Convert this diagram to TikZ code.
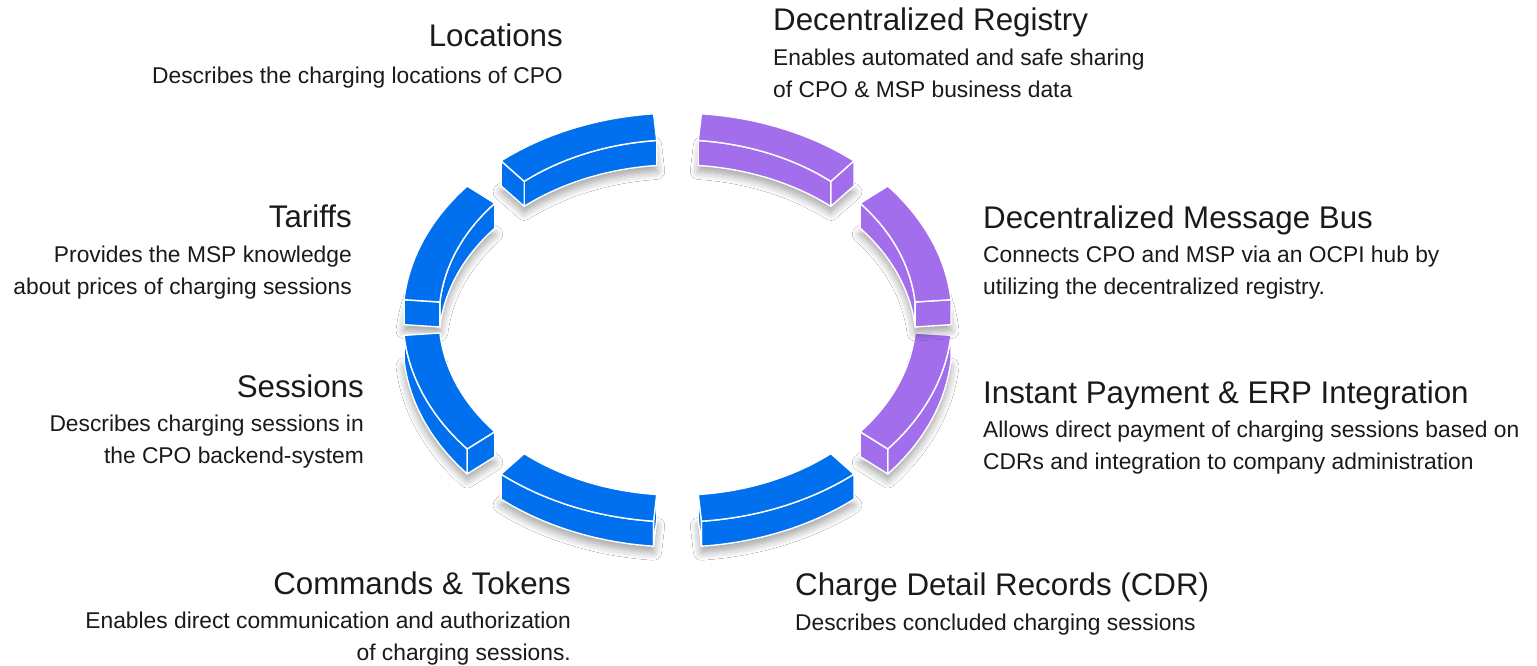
\documentclass[tikz,border=0pt]{standalone}
\usepackage{fontspec}
\setmainfont{Liberation Sans}
\usetikzlibrary{shadows.blur}
\definecolor{segblue}{HTML}{0070EE}
\definecolor{segpurple}{HTML}{A36EEC}
\definecolor{txtdark}{HTML}{1A1A1A}
\def\cx{677.5}\def\cy{317.5}
\def\Ro{274.5}\def\Ryo{204.5}
\def\Ri{238.5}\def\Ryi{177.7}
\def\hh{25}
\tikzset{
  segedge/.style={draw=white, line width=1.4pt, line join=round},
  segshadow/.style={blur shadow={shadow xshift=0pt, shadow yshift=-6pt, shadow blur radius=8pt, shadow blur steps=10, shadow opacity=38}},
  ttl/.style={inner sep=0pt, text=txtdark, font=\fontsize{31.3}{36}\selectfont},
  dsc/.style={inner sep=0pt, text=txtdark, font=\fontsize{22.8}{30}\selectfont}
}
% top face
\newcommand\segtop[3]{\filldraw[fill=#3,segedge]
  plot[domain=#1:#2,samples=40] ({\cx+\Ro*cos(\x)},{\cy-\Ryo*sin(\x)}) --
  plot[domain=#2:#1,samples=40] ({\cx+\Ri*cos(\x)},{\cy-\Ryi*sin(\x)}) -- cycle;}
% inner wall
\newcommand\seginner[3]{\filldraw[fill=#3,segedge]
  plot[domain=#1:#2,samples=40] ({\cx+\Ri*cos(\x)},{\cy-\Ryi*sin(\x)}) --
  plot[domain=#2:#1,samples=40] ({\cx+\Ri*cos(\x)},{\cy+\hh-\Ryi*sin(\x)}) -- cycle;}
% outer wall
\newcommand\segouter[3]{\filldraw[fill=#3,segedge]
  plot[domain=#1:#2,samples=40] ({\cx+\Ro*cos(\x)},{\cy-\Ryo*sin(\x)}) --
  plot[domain=#2:#1,samples=40] ({\cx+\Ro*cos(\x)},{\cy+\hh-\Ryo*sin(\x)}) -- cycle;}
% end cap
\newcommand\segcap[2]{\filldraw[fill=#2,segedge]
  ({\cx+\Ro*cos(#1)},{\cy-\Ryo*sin(#1)}) --
  ({\cx+\Ri*cos(#1)},{\cy-\Ryi*sin(#1)}) --
  ({\cx+\Ri*cos(#1)},{\cy+\hh-\Ryi*sin(#1)}) --
  ({\cx+\Ro*cos(#1)},{\cy+\hh-\Ryo*sin(#1)}) -- cycle;}
% shadow (bottom face)
\newcommand\segshade[3]{\fill[fill=#3,segshadow]
  plot[domain=#1:#2,samples=40] ({\cx+\Ro*cos(\x)},{\cy+\hh-\Ryo*sin(\x)}) --
  plot[domain=#2:#1,samples=40] ({\cx+\Ri*cos(\x)},{\cy+\hh-\Ryi*sin(\x)}) -- cycle;}
\begin{document}
\begin{tikzpicture}[x=1pt,y=-1pt]
\useasboundingbox[fill=white] (0,0) rectangle (1537,666);
% Locations
\segshade{95}{130}{segblue}\seginner{95}{130}{segblue}\segcap{130}{segblue}\segtop{95}{130}{segblue}
% Decentralized Registry
\segshade{50}{85}{segpurple}\seginner{50}{85}{segpurple}\segcap{50}{segpurple}\segtop{50}{85}{segpurple}
% Tariffs
\segshade{140}{175}{segblue}\seginner{140}{175}{segblue}\segcap{175}{segblue}\segtop{140}{175}{segblue}
% Instant Payment
\segshade{320}{355}{segpurple}\segouter{320}{355}{segpurple}\segcap{320}{segpurple}\segtop{320}{355}{segpurple}
% Message Bus
\segshade{5}{40}{segpurple}\seginner{5}{40}{segpurple}\segcap{5}{segpurple}\segtop{5}{40}{segpurple}
% Sessions
\segshade{185}{220}{segblue}\segouter{185}{220}{segblue}\segcap{220}{segblue}\segtop{185}{220}{segblue}
% Commands & Tokens
\segshade{230}{265}{segblue}\segouter{230}{265}{segblue}\segcap{265}{segblue}\segtop{230}{265}{segblue}
% CDR
\segshade{275}{310}{segblue}\segouter{275}{310}{segblue}\segcap{275}{segblue}\segtop{275}{310}{segblue}

% texts
\node[ttl, anchor=base east] (locT) at (563,47) {Locations};
\node[dsc, anchor=base east] (locD) at (563,84) {Describes the charging locations of CPO};

\node[ttl, anchor=base west] (regT) at (773,31) {Decentralized Registry};
\node[dsc, anchor=base west] (regD1) at (773,66) {Enables automated and safe sharing};
\node[dsc, anchor=base west] (regD2) at (773,98) {of CPO \& MSP business data};

\node[ttl, anchor=base east] (tarT) at (352,227) {Tariffs};
\node[dsc, anchor=base east] (tarD1) at (352,262) {Provides the MSP knowledge};
\node[dsc, anchor=base east] (tarD2) at (352,294) {about prices of charging sessions};

\node[ttl, anchor=base west] (busT) at (983,228) {Decentralized Message Bus};
\node[dsc, anchor=base west] (busD1) at (983,262) {Connects CPO and MSP via an OCPI hub by};
\node[dsc, anchor=base west] (busD2) at (983,294) {utilizing the decentralized registry.};

\node[ttl, anchor=base east] (sesT) at (364,397) {Sessions};
\node[dsc, anchor=base east] (sesD1) at (364,431) {Describes charging sessions in};
\node[dsc, anchor=base east] (sesD2) at (364,463) {the CPO backend-system};

\node[ttl, anchor=base west] (payT) at (983,403) {Instant Payment \& ERP Integration};
\node[dsc, anchor=base west] (payD1) at (983,437) {Allows direct payment of charging sessions based on};
\node[dsc, anchor=base west] (payD2) at (983,469) {CDRs and integration to company administration};

\node[ttl, anchor=base east] (cmdT) at (571,594) {Commands \& Tokens};
\node[dsc, anchor=base east] (cmdD1) at (571,628) {Enables direct communication and authorization};
\node[dsc, anchor=base east] (cmdD2) at (571,660) {of charging sessions.};

\node[ttl, anchor=base west] (cdrT) at (795,595) {Charge Detail Records (CDR)};
\node[dsc, anchor=base west] (cdrD) at (795,630) {Describes concluded charging sessions};
\end{tikzpicture}
\end{document}
